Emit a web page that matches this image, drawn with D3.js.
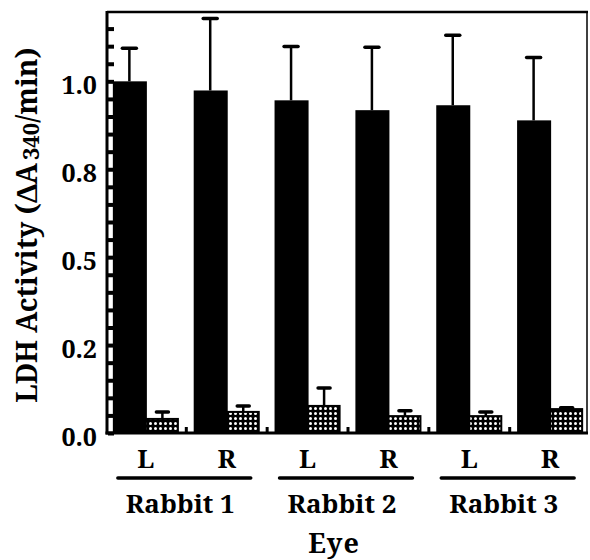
<!DOCTYPE html>
<html>
<head>
<meta charset="utf-8">
<script src="https://cdn.jsdelivr.net/npm/d3@7"></script>
<style>
  body { margin: 0; background: #fff; }
</style>
</head>
<body>
<svg id="chart"></svg>
<script>
// Data
const rabbits = ['Rabbit 1', 'Rabbit 2', 'Rabbit 3'];
const sides = ['L', 'R'];
const eyes = ['R1-L', 'R1-R', 'R2-L', 'R2-R', 'R3-L', 'R3-R'];
const eyeSide = ['L', 'R', 'L', 'R', 'L', 'R'];
const eyeRabbit = ['Rabbit 1', 'Rabbit 1', 'Rabbit 2', 'Rabbit 2', 'Rabbit 3', 'Rabbit 3'];
const series = ['solid', 'stippled'];
const solidMean = [1.00, 0.974, 0.946, 0.918, 0.932, 0.889];
const solidErr = [0.094, 0.205, 0.153, 0.179, 0.199, 0.179];
const stippledMean = [0.040, 0.060, 0.077, 0.048, 0.048, 0.068];
const stippledErr = [0.020, 0.017, 0.051, 0.015, 0.012, 0.004];
const yTickValues = [0, 0.25, 0.5, 0.75, 1.0];
const yTickLabels = ['0.0', '0.2', '0.5', '0.8', '1.0'];
const yMinorValues = [0, 0.05, 0.1, 0.15, 0.2, 0.25, 0.3, 0.35, 0.4, 0.45, 0.5, 0.55,
                      0.6, 0.65, 0.7, 0.75, 0.8, 0.85, 0.9, 0.95, 1.0, 1.05, 1.1, 1.15];

const FONT = '"Noto Serif", "Liberation Serif", serif';

class BarChart {
    constructor(_config, _data) {
        this.config = {
            parentElement: _config.parentElement,
            containerWidth: _config.containerWidth || 590,
            containerHeight: _config.containerHeight || 560,
            margin: _config.margin || {top: 11, right: 2, bottom: 127, left: 108}
        };
        this.data = _data;
        this.initVis();
    }

    initVis() {
        let vis = this;

        vis.width = vis.config.containerWidth - vis.config.margin.left - vis.config.margin.right;
        vis.height = vis.config.containerHeight - vis.config.margin.top - vis.config.margin.bottom;

        vis.svg = d3.select(vis.config.parentElement)
            .attr('width', vis.config.containerWidth)
            .attr('height', vis.config.containerHeight)
            .attr('font-family', FONT)
            .attr('font-weight', 'bold');

        // stipple fill for the small bars
        const pat = vis.svg.append('defs').append('pattern')
            .attr('id', 'stipple')
            .attr('patternUnits', 'userSpaceOnUse')
            .attr('width', 5)
            .attr('height', 5);
        pat.append('rect').attr('width', 5).attr('height', 5).attr('fill', '#000');
        pat.append('circle').attr('cx', 2.5).attr('cy', 2.5).attr('r', 1.5).attr('fill', '#fff');

        vis.chart = vis.svg.append('g')
            .attr('transform', `translate(${vis.config.margin.left},${vis.config.margin.top})`);

        vis.xScale = d3.scaleBand()
            .domain(eyes)
            .range([0, vis.width])
            .paddingInner(0.183)
            .paddingOuter(0.06);

        vis.subScale = d3.scaleBand()
            .domain(series)
            .range([0, vis.xScale.bandwidth()]);

        vis.yScale = d3.scaleLinear()
            .domain([0, 1.2])
            .range([vis.height, 0]);

        // minor ticks pointing inward
        vis.yAxis = d3.axisLeft(vis.yScale)
            .tickValues(yMinorValues)
            .tickSize(-6)
            .tickFormat('');

        vis.yAxisG = vis.chart.append('g')
            .attr('class', 'axis y-axis');

        // y axis title
        const title = vis.svg.append('text')
            .attr('transform', 'translate(37,225) rotate(-90)')
            .attr('text-anchor', 'middle')
            .attr('font-family', FONT)
            .style('font-size', '28px');
        title.append('tspan').text('LDH Activity (ΔA');
        title.append('tspan').text('340').style('font-size', '22px').attr('dy', 2).attr('dx', 3);
        title.append('tspan').text('/min)').attr('dy', -2);

        // x axis title
        vis.svg.append('text')
            .attr('x', 334)
            .attr('y', 553)
            .attr('text-anchor', 'middle')
            .attr('font-family', FONT)
            .style('font-size', '27px')
            .style('letter-spacing', '1px')
            .text('Eye');
    }

    renderVis() {
        let vis = this;
        const x = vis.xScale, y = vis.yScale, sub = vis.subScale;
        const bw = sub.bandwidth();
        const step = x.step();

        vis.yAxisG
            .call(vis.yAxis)
            .call(g => g.select('.domain').remove())
            .call(g => g.selectAll('.tick line').attr('stroke', '#000').attr('stroke-width', 4));

        // tick labels
        vis.chart.selectAll('.y-label')
            .data(yTickValues)
            .join('text')
            .attr('class', 'y-label')
            .attr('x', -11)
            .attr('y', d => y(d) + 4)
            .attr('dy', '0.36em')
            .attr('text-anchor', 'end')
            .attr('font-family', FONT)
            .style('font-size', '25px')
            .text((d, i) => yTickLabels[i]);

        // solid bars
        vis.chart.selectAll('.solid')
            .data(vis.data)
            .join('rect')
            .attr('class', 'solid')
            .attr('x', d => x(d.eye) + sub('solid'))
            .attr('y', d => y(d.solid))
            .attr('width', bw + 1)
            .attr('height', d => y(0) - y(d.solid))
            .attr('fill', '#000');

        // stippled bars
        vis.chart.selectAll('.stippled')
            .data(vis.data)
            .join('rect')
            .attr('class', 'stippled')
            .attr('x', d => x(d.eye) + sub('stippled'))
            .attr('y', d => y(d.stippled))
            .attr('width', bw - 1)
            .attr('height', d => y(0) - y(d.stippled))
            .attr('fill', 'url(#stipple)')
            .attr('stroke', '#000')
            .attr('stroke-width', 2);

        // error bars (upper only)
        const errs = [];
        vis.data.forEach(d => {
            errs.push({cx: x(d.eye) + sub('solid') + bw / 2, v: d.solid, e: d.solidErr, cap: 14});
            errs.push({cx: x(d.eye) + sub('stippled') + bw / 2, v: d.stippled, e: d.stippledErr, cap: 12});
        });

        vis.chart.selectAll('.err')
            .data(errs)
            .join('line')
            .attr('class', 'err')
            .attr('x1', d => d.cx).attr('x2', d => d.cx)
            .attr('y1', d => y(d.v)).attr('y2', d => y(d.v + d.e))
            .attr('stroke', '#000')
            .attr('stroke-width', 2.5);

        vis.chart.selectAll('.cap')
            .data(errs)
            .join('line')
            .attr('class', 'cap')
            .attr('x1', d => d.cx - d.cap / 2).attr('x2', d => d.cx + d.cap / 2)
            .attr('y1', d => y(d.v + d.e)).attr('y2', d => y(d.v + d.e))
            .attr('stroke', '#000')
            .attr('stroke-width', 3.5)
            .attr('stroke-linecap', 'round');

        // small ticks between eyes on the baseline
        vis.chart.selectAll('.sep')
            .data(eyes.slice(0, -1))
            .join('line')
            .attr('class', 'sep')
            .attr('x1', d => x(d) + x.bandwidth() + step * x.paddingInner() / 2)
            .attr('x2', d => x(d) + x.bandwidth() + step * x.paddingInner() / 2)
            .attr('y1', y(0))
            .attr('y2', y(0) - 6)
            .attr('stroke', '#000')
            .attr('stroke-width', 3);

        // frame
        const frame = vis.chart.append('g').attr('stroke', '#000').attr('fill', 'none');
        frame.append('line').attr('x1', -1).attr('x2', vis.width).attr('y1', 1).attr('y2', 1).attr('stroke-width', 2.5);
        frame.append('line').attr('x1', -1).attr('x2', -1).attr('y1', 0).attr('y2', y(0) + 1.5).attr('stroke-width', 3);
        frame.append('line').attr('x1', -2.5).attr('x2', vis.width).attr('y1', y(0)).attr('y2', y(0)).attr('stroke-width', 3);
        frame.append('line').attr('x1', vis.width - 1).attr('x2', vis.width - 1).attr('y1', 0).attr('y2', y(0)).attr('stroke-width', 1.5);

        // side labels
        vis.chart.selectAll('.side')
            .data(vis.data)
            .join('text')
            .attr('class', 'side')
            .attr('x', d => x(d.eye) + bw)
            .attr('y', 457)
            .attr('text-anchor', 'middle')
            .attr('font-family', FONT)
            .style('font-size', '26px')
            .text(d => d.side);

        // rabbit groups: underline + name
        const groups = rabbits.map(r => {
            const members = vis.data.filter(d => d.rabbit === r);
            return {
                name: r,
                x0: x(members[0].eye) + 5,
                x1: x(members[members.length - 1].eye) + x.bandwidth() - 9
            };
        });

        vis.chart.selectAll('.underline')
            .data(groups)
            .join('line')
            .attr('class', 'underline')
            .attr('x1', d => d.x0).attr('x2', d => d.x1)
            .attr('y1', 467).attr('y2', 467)
            .attr('stroke', '#000')
            .attr('stroke-width', 3.5)
            .attr('stroke-linecap', 'round');

        vis.chart.selectAll('.rabbit')
            .data(groups)
            .join('text')
            .attr('class', 'rabbit')
            .attr('x', d => (d.x0 + d.x1) / 2 - 4)
            .attr('y', 502)
            .attr('text-anchor', 'middle')
            .attr('font-family', FONT)
            .style('font-size', '26px')
            .text(d => d.name);
    }
}

const data = eyes.map((e, i) => ({
    eye: e,
    side: eyeSide[i],
    rabbit: eyeRabbit[i],
    solid: solidMean[i],
    solidErr: solidErr[i],
    stippled: stippledMean[i],
    stippledErr: stippledErr[i]
}));

const chart = new BarChart({parentElement: '#chart'}, data);
chart.renderVis();
</script>
</body>
</html>
